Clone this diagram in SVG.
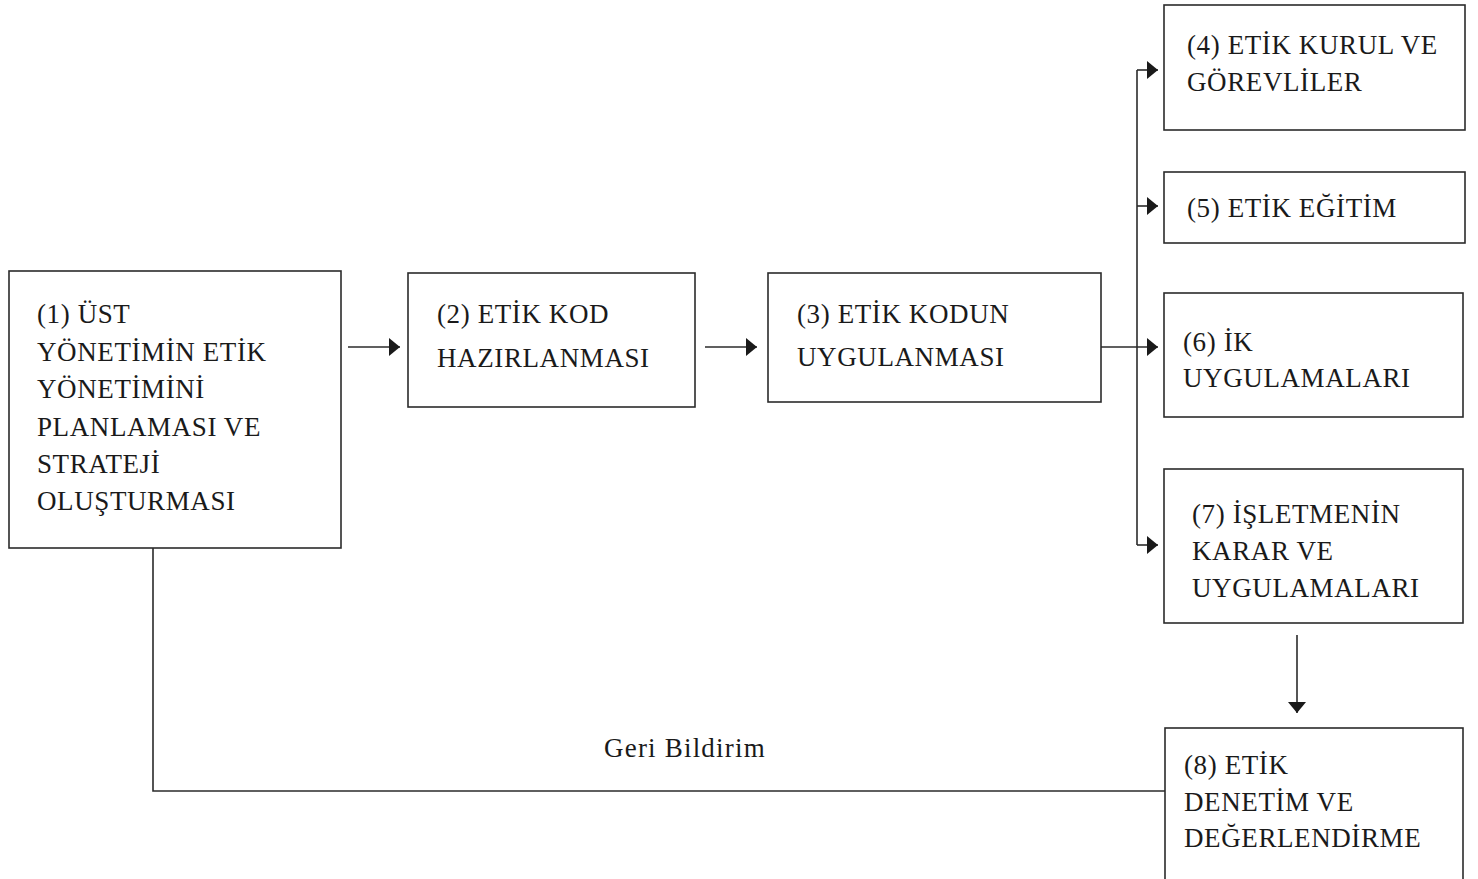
<svg xmlns="http://www.w3.org/2000/svg" width="1478" height="879" viewBox="0 0 1478 879">
<defs>
<marker id="ah" markerWidth="12" markerHeight="18" refX="11" refY="9" orient="auto" markerUnits="userSpaceOnUse">
<path d="M0,0 L11,9 L0,18 Z" fill="#1a1a1a"/>
</marker>
<style>
.box{fill:#fff;stroke:#2b2b2b;stroke-width:1.6}
.t{font-family:"Liberation Serif","Times New Roman",serif;font-size:27px;fill:#1a1a1a;letter-spacing:0.6px}
.c{fill:none;stroke:#2b2b2b;stroke-width:1.6}
</style>
</defs>
<rect width="1478" height="879" fill="#fff"/>
<g id="connectors">
<line class="c" x1="348" y1="347" x2="400" y2="347" marker-end="url(#ah)"/>
<line class="c" x1="705" y1="347" x2="757" y2="347" marker-end="url(#ah)"/>
<line class="c" x1="1101" y1="347" x2="1158" y2="347" marker-end="url(#ah)"/>
<line class="c" x1="1137" y1="70" x2="1137" y2="545"/>
<line class="c" x1="1137" y1="70" x2="1158" y2="70" marker-end="url(#ah)"/>
<line class="c" x1="1137" y1="206" x2="1158" y2="206" marker-end="url(#ah)"/>
<line class="c" x1="1137" y1="545" x2="1158" y2="545" marker-end="url(#ah)"/>
<line class="c" x1="1297" y1="635" x2="1297" y2="713" marker-end="url(#ah)"/>
<polyline class="c" points="153,548 153,791 1165,791"/>
<text class="t" x="604" y="757" style="letter-spacing:1.2px">Geri Bildirim</text>
</g>
<g id="n1">
<rect class="box" x="9" y="271" width="332" height="277"/>
<text class="t" x="37" y="323">(1) ÜST</text>
<text class="t" x="37" y="361">YÖNETİMİN ETİK</text>
<text class="t" x="37" y="398">YÖNETİMİNİ</text>
<text class="t" x="37" y="436">PLANLAMASI VE</text>
<text class="t" x="37" y="473">STRATEJİ</text>
<text class="t" x="37" y="510">OLUŞTURMASI</text>
</g>
<g id="n2">
<rect class="box" x="408" y="273" width="287" height="134"/>
<text class="t" x="437" y="323">(2) ETİK KOD</text>
<text class="t" x="437" y="367">HAZIRLANMASI</text>
</g>
<g id="n3">
<rect class="box" x="768" y="273" width="333" height="129"/>
<text class="t" x="797" y="323">(3) ETİK KODUN</text>
<text class="t" x="797" y="366">UYGULANMASI</text>
</g>
<g id="n4">
<rect class="box" x="1164" y="5" width="301" height="125"/>
<text class="t" x="1187" y="54">(4) ETİK KURUL VE</text>
<text class="t" x="1187" y="91">GÖREVLİLER</text>
</g>
<g id="n5">
<rect class="box" x="1164" y="172" width="301" height="71"/>
<text class="t" x="1187" y="217">(5) ETİK EĞİTİM</text>
</g>
<g id="n6">
<rect class="box" x="1164" y="293" width="299" height="124"/>
<text class="t" x="1183" y="351">(6) İK</text>
<text class="t" x="1183" y="387">UYGULAMALARI</text>
</g>
<g id="n7">
<rect class="box" x="1164" y="469" width="299" height="154"/>
<text class="t" x="1192" y="523">(7) İŞLETMENİN</text>
<text class="t" x="1192" y="560">KARAR VE</text>
<text class="t" x="1192" y="597">UYGULAMALARI</text>
</g>
<g id="n8">
<rect class="box" x="1165" y="728" width="298" height="170"/>
<text class="t" x="1184" y="774">(8) ETİK</text>
<text class="t" x="1184" y="811">DENETİM VE</text>
<text class="t" x="1184" y="847">DEĞERLENDİRME</text>
</g>
</svg>
